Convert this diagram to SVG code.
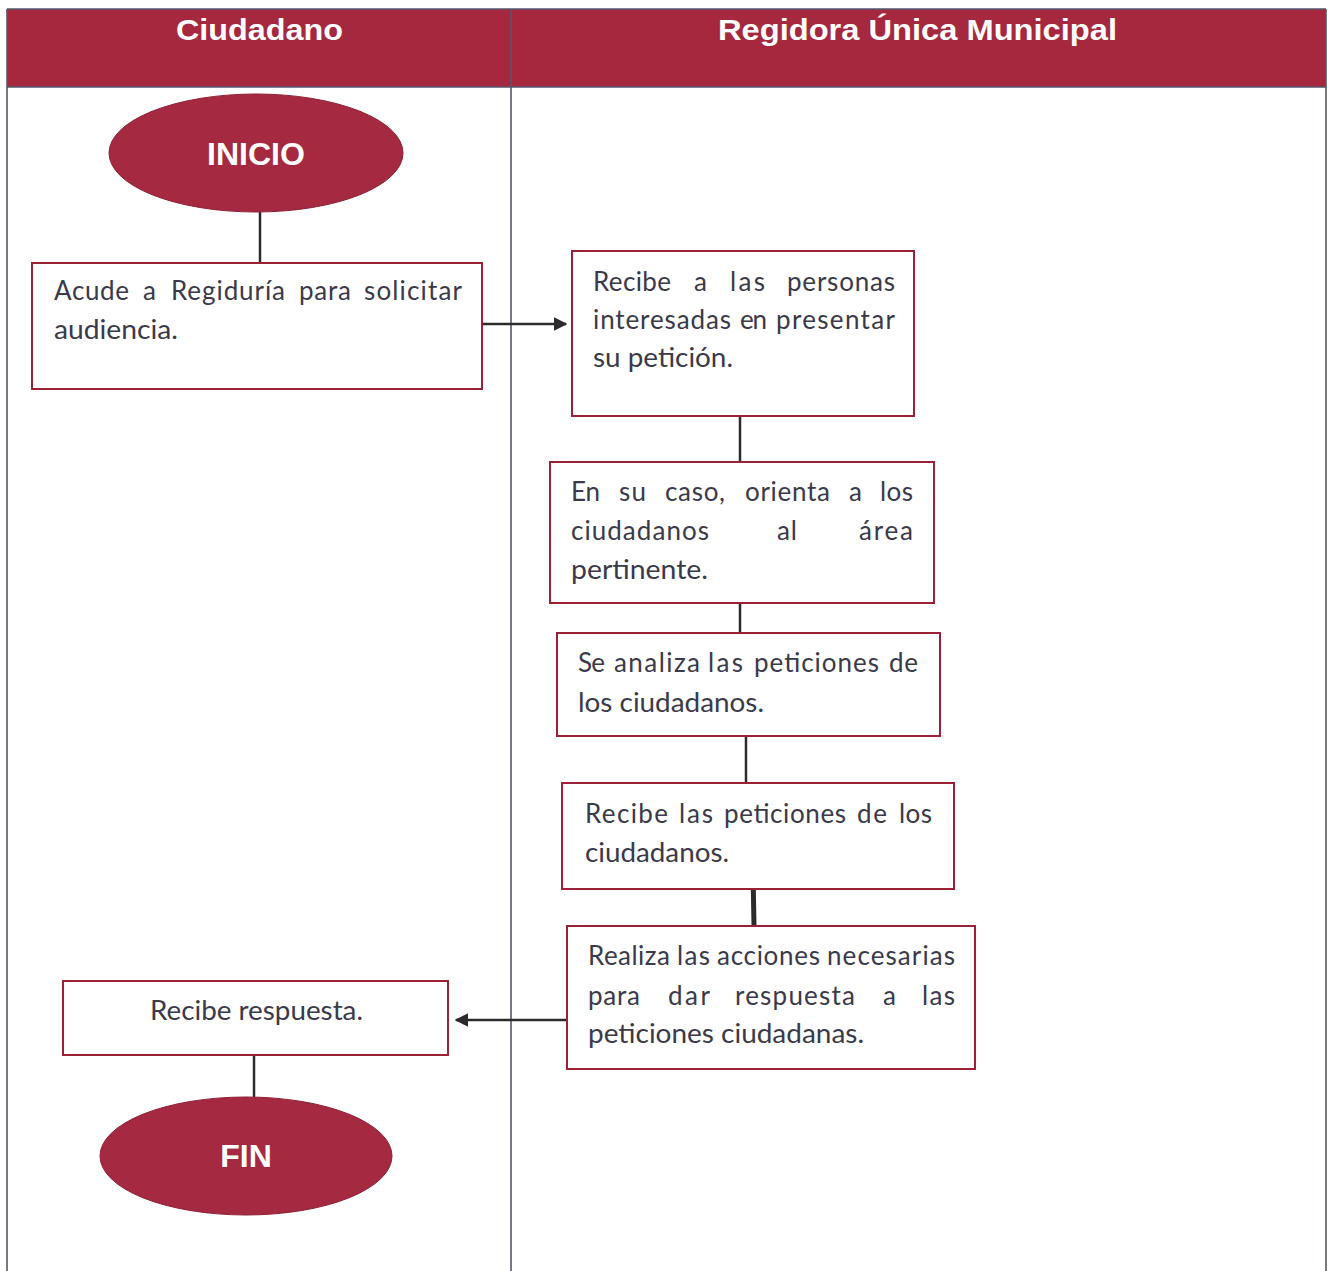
<svg xmlns="http://www.w3.org/2000/svg" width="1329" height="1271" viewBox="0 0 1329 1271">
  <style>
    .grid { stroke: #55566a; stroke-width: 1.6; fill: none; }
    .band { fill: #a6283f; }
    .head { font-family: "Liberation Sans", Arial, sans-serif; font-weight: bold; font-size: 30px; fill: #ffffff; }
    .term { fill: #a52941; stroke: #8e1f34; stroke-width: 1; }
    .termtxt { font-family: "Liberation Sans", Arial, sans-serif; font-weight: bold; font-size: 32px; fill: #ffffff; text-anchor: middle; }
    .box { fill: #ffffff; stroke: #9c2036; stroke-width: 2; }
    .txt { font-family: Lato, "Open Sans", "Liberation Sans", sans-serif; font-size: 26px; fill: #3a3a4a; }
    .link { stroke: #2b2b2b; stroke-width: 2.5; fill: none; }
  </style>
  <defs>
    <marker id="arrow" viewBox="0 0 10 10" refX="9" refY="5" markerWidth="5.5" markerHeight="5.5" orient="auto" markerUnits="strokeWidth">
      <path d="M0,0 L10,5 L0,10 z" fill="#2b2b2b"/>
    </marker>
  </defs>

  <rect width="1329" height="1271" fill="#ffffff"/>

  <!-- swimlane table -->
  <g id="lanes">
    <rect class="band" x="7" y="9" width="1319" height="78"/>
    <line class="grid" x1="7" y1="9" x2="1326" y2="9"/>
    <line class="grid" x1="7" y1="87" x2="1326" y2="87"/>
    <line class="grid" x1="7" y1="9" x2="7" y2="1271"/>
    <line class="grid" x1="511" y1="9" x2="511" y2="1271"/>
    <line class="grid" x1="1326" y1="9" x2="1326" y2="1271"/>
    <text class="head" x="176" y="40" textLength="167" lengthAdjust="spacingAndGlyphs">Ciudadano</text>
    <text class="head" x="718" y="40" textLength="399" lengthAdjust="spacingAndGlyphs">Regidora Única Municipal</text>
  </g>

  <!-- connectors -->
  <g id="connectors">
    <line class="link" x1="260" y1="212" x2="260" y2="263"/>
    <line class="link" x1="482" y1="324" x2="566" y2="324" marker-end="url(#arrow)"/>
    <line class="link" x1="740" y1="416" x2="740" y2="462"/>
    <line class="link" x1="740" y1="603" x2="740" y2="633"/>
    <line class="link" x1="746" y1="736" x2="746" y2="783"/>
    <line class="link" x1="753" y1="872" x2="754" y2="926" style="stroke-width:5"/>
    <line class="link" x1="571" y1="1020" x2="456" y2="1020" marker-end="url(#arrow)"/>
    <line class="link" x1="254" y1="1055" x2="254" y2="1097"/>
  </g>

  <g id="inicio">
    <ellipse class="term" cx="256" cy="153" rx="147" ry="59"/>
    <text class="termtxt" x="256" y="165">INICIO</text>
  </g>

  <!-- justified lines: one tspan per word -->
  <g id="acude">
    <rect class="box" x="32" y="263" width="450" height="126"/>
    <text class="txt" y="300"><tspan x="54" textLength="75">Acude</tspan><tspan x="143" textLength="14">a</tspan><tspan x="171" textLength="114">Regiduría</tspan><tspan x="299" textLength="52">para</tspan><tspan x="364" textLength="98">solicitar</tspan></text>
    <text class="txt" x="54" y="339" textLength="124" lengthAdjust="spacingAndGlyphs">audiencia.</text>
  </g>

  <g id="recibe-personas">
    <rect class="box" x="572" y="251" width="342" height="165"/>
    <text class="txt" y="291"><tspan x="593" textLength="78">Recibe</tspan><tspan x="694" textLength="13">a</tspan><tspan x="730" textLength="35">las</tspan><tspan x="787" textLength="108">personas</tspan></text>
    <text class="txt" y="329"><tspan x="593" textLength="138">interesadas</tspan><tspan x="740" textLength="27">en</tspan><tspan x="776" textLength="119">presentar</tspan></text>
    <text class="txt" x="593" y="367" textLength="140" lengthAdjust="spacingAndGlyphs">su petición.</text>
  </g>

  <g id="orienta">
    <rect class="box" x="550" y="462" width="384" height="141"/>
    <text class="txt" y="501"><tspan x="571" textLength="29">En</tspan><tspan x="619" textLength="27">su</tspan><tspan x="665" textLength="60">caso,</tspan><tspan x="745" textLength="85">orienta</tspan><tspan x="849" textLength="13">a</tspan><tspan x="880" textLength="33">los</tspan></text>
    <text class="txt" y="540"><tspan x="571" textLength="138">ciudadanos</tspan><tspan x="777" textLength="20">al</tspan><tspan x="859" textLength="54">área</tspan></text>
    <text class="txt" x="571" y="579" textLength="137" lengthAdjust="spacingAndGlyphs">pertinente.</text>
  </g>

  <g id="analiza">
    <rect class="box" x="557" y="633" width="383" height="103"/>
    <text class="txt" y="672"><tspan x="578" textLength="27">Se</tspan><tspan x="614" textLength="86">analiza</tspan><tspan x="708" textLength="35">las</tspan><tspan x="754" textLength="125">peticiones</tspan><tspan x="889" textLength="29">de</tspan></text>
    <text class="txt" x="578" y="712" textLength="186" lengthAdjust="spacingAndGlyphs">los ciudadanos.</text>
  </g>

  <g id="recibe-peticiones">
    <rect class="box" x="562" y="783" width="392" height="106"/>
    <text class="txt" y="823"><tspan x="585" textLength="83">Recibe</tspan><tspan x="679" textLength="34">las</tspan><tspan x="724" textLength="122">peticiones</tspan><tspan x="857" textLength="30">de</tspan><tspan x="899" textLength="33">los</tspan></text>
    <text class="txt" x="585" y="862" textLength="144" lengthAdjust="spacingAndGlyphs">ciudadanos.</text>
  </g>

  <g id="realiza">
    <rect class="box" x="567" y="926" width="408" height="143"/>
    <text class="txt" y="965"><tspan x="588" textLength="82">Realiza</tspan><tspan x="677" textLength="33">las</tspan><tspan x="717" textLength="103">acciones</tspan><tspan x="827" textLength="128">necesarias</tspan></text>
    <text class="txt" y="1005"><tspan x="588" textLength="52">para</tspan><tspan x="668" textLength="42">dar</tspan><tspan x="735" textLength="120">respuesta</tspan><tspan x="883" textLength="14">a</tspan><tspan x="922" textLength="33">las</tspan></text>
    <text class="txt" x="588" y="1043" textLength="276" lengthAdjust="spacingAndGlyphs">peticiones ciudadanas.</text>
  </g>

  <g id="recibe-respuesta">
    <rect class="box" x="63" y="981" width="385" height="74"/>
    <text class="txt" x="150" y="1020" textLength="213" lengthAdjust="spacingAndGlyphs">Recibe respuesta.</text>
  </g>

  <g id="fin">
    <ellipse class="term" cx="246" cy="1156" rx="146" ry="59"/>
    <text class="termtxt" x="246" y="1167">FIN</text>
  </g>
</svg>
